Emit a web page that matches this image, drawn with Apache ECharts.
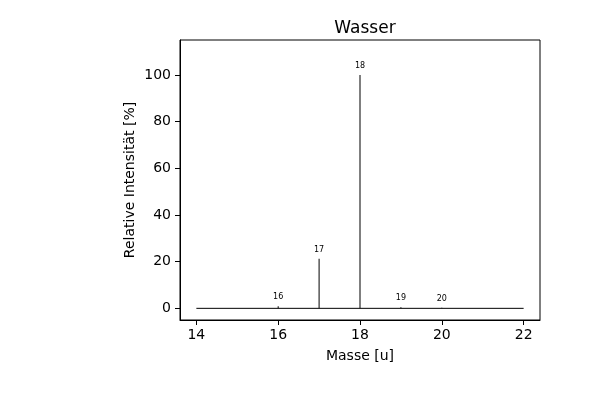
<!DOCTYPE html>
<html><head><meta charset="utf-8">
<script src="https://cdn.jsdelivr.net/npm/echarts@6/dist/echarts.min.js"></script>
<style>html,body{margin:0;padding:0;background:#fff}#c{width:600px;height:400px}</style>
</head><body><div id="c"></div>
<script>
const masses = [16, 17, 18, 19, 20];
const intensities = [0.9, 21.2, 100, 0.5, 0.2];
const baselineX = [14, 22];
const xTicks = [14, 16, 18, 20, 22];
const yTicks = [0, 20, 40, 60, 80, 100];
const titleText = 'Wasser';
const xName = 'Masse [u]';
const yName = 'Relative Intensität [%]';

const font = 'DejaVu Sans';
const chart = echarts.init(document.getElementById('c'), null, {renderer: 'canvas'});
chart.setOption({
  animation: false,
  backgroundColor: '#fff',
  title: {text: titleText, left: 360, top: 15, textAlign: 'center',
    textStyle: {fontFamily: font, fontSize: 17, fontWeight: 'normal', color: '#000'}},
  grid: {left: 180, right: 60, top: 40, bottom: 80, show: true, borderColor: '#000', borderWidth: 1, backgroundColor: 'transparent'},
  xAxis: {type: 'value', min: 13.6, max: 22.4, name: xName, nameLocation: 'middle', nameGap: 29,
    nameTextStyle: {fontFamily: font, fontSize: 14, color: '#000'},
    axisLine: {show: true, onZero: false, lineStyle: {color: '#000', width: 1}},
    axisTick: {show: true, length: 5, lineStyle: {color: '#000'}, customValues: xTicks},
    axisLabel: {fontFamily: font, fontSize: 14, color: '#000', margin: 8, customValues: xTicks},
    splitLine: {show: false}},
  yAxis: {type: 'value', min: -5, max: 115, name: yName, nameLocation: 'middle', nameGap: 50,
    nameMoveOverlap: false,
    nameTextStyle: {fontFamily: font, fontSize: 14, color: '#000', verticalAlign: 'middle'},
    axisLine: {show: true, onZero: false, lineStyle: {color: '#000', width: 1}},
    axisTick: {show: true, length: 5, lineStyle: {color: '#000'}, customValues: yTicks},
    axisLabel: {fontFamily: font, fontSize: 14, color: '#000', margin: 9, customValues: yTicks},
    splitLine: {show: false}},
  series: [
    {type: 'line', data: baselineX.map(x => [x, 0]), symbol: 'none', lineStyle: {color: '#000', width: 1}, silent: true},
    {type: 'bar', data: masses.map((m, i) => [m, intensities[i]]), barWidth: 1,
      itemStyle: {color: '#000'},
      label: {show: true, position: 'top', distance: 5, fontFamily: font, fontSize: 8, color: '#000',
        formatter: p => String(p.value[0])}}
  ]
});
</script></body></html>
